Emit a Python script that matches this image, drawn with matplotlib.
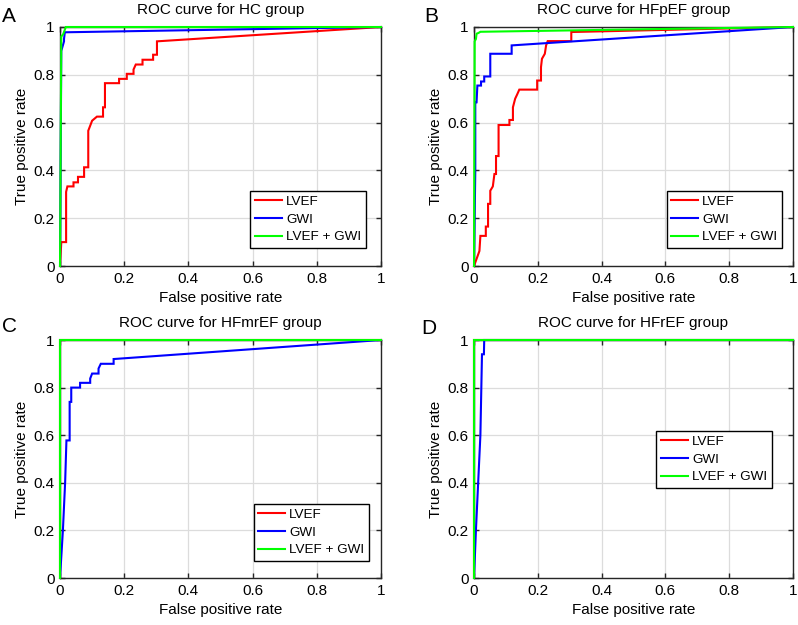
import matplotlib
matplotlib.use("Agg")
import matplotlib.pyplot as plt

plt.rcParams['font.family'] = ['Liberation Sans', 'DejaVu Sans']

# ROC points (false positive rate, true positive rate)
hc_lvef_fpr = [0, 0.004, 0.019, 0.019, 0.023, 0.042, 0.042, 0.056, 0.056, 0.075, 0.075, 0.088, 0.088,
               0.094, 0.100, 0.115, 0.134, 0.134, 0.140, 0.140, 0.184, 0.184, 0.208, 0.208, 0.229,
               0.229, 0.236, 0.257, 0.257, 0.290, 0.290, 0.302, 0.302, 1.0]
hc_lvef_tpr = [0, 0.10, 0.10, 0.31, 0.333, 0.333, 0.35, 0.35, 0.373, 0.373, 0.413, 0.413, 0.566,
               0.587, 0.608, 0.625, 0.625, 0.664, 0.664, 0.765, 0.765, 0.783, 0.783, 0.804, 0.804,
               0.822, 0.843, 0.843, 0.863, 0.863, 0.884, 0.884, 0.94, 1.0]
hc_gwi_fpr = [0, 0.004, 0.0125, 0.0125, 0.015, 0.02, 1.0]
hc_gwi_tpr = [0, 0.9, 0.94, 0.95, 0.978, 0.978, 1.0]
hc_comb_fpr = [0, 0.004, 0.01, 0.018, 1.0]
hc_comb_tpr = [0, 0.96, 0.97, 1.0, 1.0]

hfpef_lvef_fpr = [0, 0.017, 0.02, 0.037, 0.037, 0.044, 0.044, 0.051, 0.051, 0.059, 0.064, 0.069,
                  0.069, 0.077, 0.077, 0.111, 0.111, 0.122, 0.122, 0.129, 0.135, 0.142, 0.198,
                  0.198, 0.21, 0.21, 0.213, 0.222, 0.226, 0.231, 0.305, 0.305, 1.0]
hfpef_lvef_tpr = [0, 0.063, 0.126, 0.126, 0.165, 0.165, 0.26, 0.26, 0.315, 0.333, 0.385, 0.385,
                  0.46, 0.46, 0.59, 0.59, 0.611, 0.611, 0.664, 0.70, 0.717, 0.738, 0.738,
                  0.776, 0.776, 0.832, 0.867, 0.888, 0.923, 0.941, 0.941, 0.979, 1.0]
hfpef_gwi_fpr = [0, 0.004, 0.004, 0.008, 0.0105, 0.022, 0.022, 0.032, 0.032, 0.051, 0.051, 0.118, 0.118, 1.0]
hfpef_gwi_tpr = [0, 0.4, 0.685, 0.685, 0.755, 0.755, 0.772, 0.772, 0.793, 0.793, 0.888, 0.888, 0.923, 1.0]
hfpef_comb_fpr = [0, 0.002, 0.006, 0.008, 0.014, 0.02, 1.0]
hfpef_comb_tpr = [0, 0.94, 0.95, 0.972, 0.975, 0.98, 1.0]

hfmref_lvef_fpr = [0, 0, 1.0]
hfmref_lvef_tpr = [0, 1.0, 1.0]
hfmref_gwi_fpr = [0, 0.009, 0.016, 0.02, 0.03, 0.03, 0.035, 0.035, 0.0625, 0.0625, 0.094, 0.094,
                  0.10, 0.12, 0.12, 0.127, 0.167, 0.167, 1.0]
hfmref_gwi_tpr = [0, 0.2, 0.403, 0.578, 0.578, 0.74, 0.74, 0.80, 0.80, 0.82, 0.82, 0.838,
                  0.859, 0.859, 0.88, 0.90, 0.90, 0.92, 1.0]
hfmref_comb_fpr = [0, 0, 1.0]
hfmref_comb_tpr = [0, 1.0, 1.0]

hfref_lvef_fpr = [0, 0, 1.0]
hfref_lvef_tpr = [0, 1.0, 1.0]
hfref_gwi_fpr = [0, 0.006, 0.013, 0.02, 0.025, 0.031, 0.032, 1.0]
hfref_gwi_tpr = [0, 0.2, 0.4, 0.6, 0.94, 0.94, 1.0, 1.0]
hfref_comb_fpr = [0, 0, 1.0]
hfref_comb_tpr = [0, 1.0, 1.0]

series_labels = ['LVEF', 'GWI', 'LVEF + GWI']
series_colors = ['#ff0000', '#0000ff', '#00ff00']
ticks = [0, 0.2, 0.4, 0.6, 0.8, 1]
tick_labels = ['0', '0.2', '0.4', '0.6', '0.8', '1']

panels = [
    ('A', 'ROC curve for HC group',
     [(hc_lvef_fpr, hc_lvef_tpr), (hc_gwi_fpr, hc_gwi_tpr), (hc_comb_fpr, hc_comb_tpr)]),
    ('B', 'ROC curve for HFpEF group',
     [(hfpef_lvef_fpr, hfpef_lvef_tpr), (hfpef_gwi_fpr, hfpef_gwi_tpr), (hfpef_comb_fpr, hfpef_comb_tpr)]),
    ('C', 'ROC curve for HFmrEF group',
     [(hfmref_lvef_fpr, hfmref_lvef_tpr), (hfmref_gwi_fpr, hfmref_gwi_tpr), (hfmref_comb_fpr, hfmref_comb_tpr)]),
    ('D', 'ROC curve for HFrEF group',
     [(hfref_lvef_fpr, hfref_lvef_tpr), (hfref_gwi_fpr, hfref_gwi_tpr), (hfref_comb_fpr, hfref_comb_tpr)]),
]

# axes rectangles (figure fraction) and legend anchors (axes fraction)
rects = [[0.0752, 0.5744, 0.4023, 0.3824], [0.594, 0.5744, 0.3997, 0.3824],
         [0.0752, 0.0752, 0.4023, 0.3808], [0.594, 0.0752, 0.3997, 0.3808]]
legend_anchor = [(0.953, 0.075), (0.966, 0.075), (0.963, 0.071), (0.934, 0.378)]
letter_pos = [(0.003, 0.974), (0.532, 0.974), (0.003, 0.478), (0.528, 0.475)]

fig = plt.figure(figsize=(7.98, 6.25), dpi=100)

for i, (letter, title, curves) in enumerate(panels):
    ax = fig.add_axes(rects[i])
    for (fpr, tpr), lab, col in zip(curves, series_labels, series_colors):
        ax.plot(fpr, tpr, color=col, lw=1.5, label=lab, solid_joinstyle='miter',
                clip_on=False, zorder=3)
    ax.set_xlim(0, 1)
    ax.set_ylim(0, 1)
    ax.set_xticks(ticks)
    ax.set_xticklabels(tick_labels)
    ax.set_yticks(ticks)
    ax.set_yticklabels(tick_labels)
    ax.grid(True, color='#dcdcdc', lw=0.9)
    ax.set_axisbelow(True)
    ax.tick_params(direction='in', top=True, right=True, length=3.5, width=1,
                   labelsize=11, colors='#262626', labelcolor='black', pad=4)
    for sp in ax.spines.values():
        sp.set_color('#262626')
        sp.set_linewidth(1.0)
        sp.set_zorder(2)
    ax.set_title(title, fontsize=11, pad=9)
    ax.set_xlabel('False positive rate', fontsize=11, labelpad=4)
    ax.set_ylabel('True positive rate', fontsize=11, labelpad=3)
    leg = ax.legend(loc='lower right', bbox_to_anchor=legend_anchor[i], fontsize=9.7,
                    fancybox=False, framealpha=1, edgecolor='black', borderpad=0.35,
                    handlelength=2.0, handletextpad=0.3, labelspacing=0.4, borderaxespad=0)
    leg.get_frame().set_linewidth(1.0)
    leg.set_zorder(5)
    fig.text(letter_pos[i][0], letter_pos[i][1], letter, fontsize=15, va='center', ha='left')

fig.savefig('out.png', dpi=100)
